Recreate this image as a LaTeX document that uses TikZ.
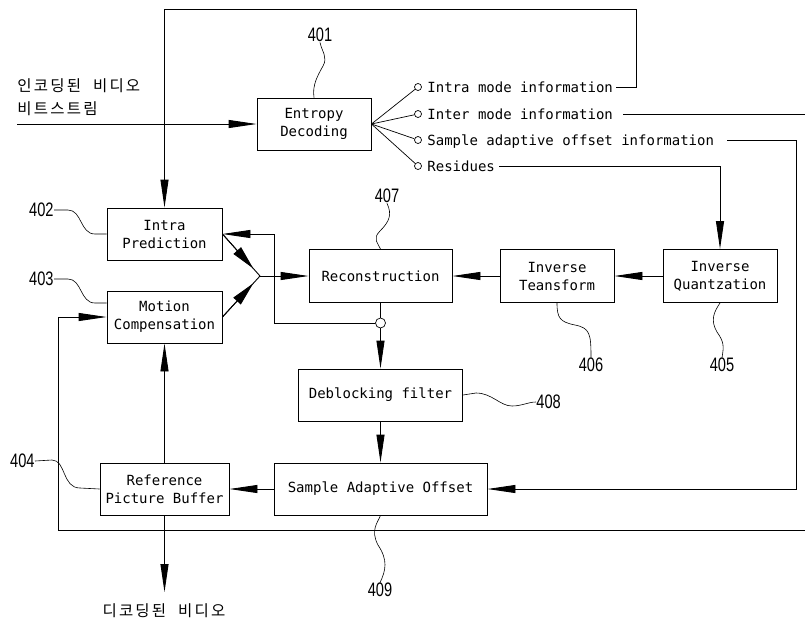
\documentclass[tikz,border=0pt]{standalone}
\usepackage{fontspec}
\usetikzlibrary{arrows.meta,calc}
\newfontfamily\monofnt{DejaVu Sans Mono}
\newfontfamily\numfnt[FakeStretch=0.75]{Liberation Sans}
\newfontfamily\krfnt{Noto Sans CJK KR}
\newcommand\ks{\kern2.2pt}
\newcommand\kgap{\hspace{12pt}}
\begin{document}
\begin{tikzpicture}[x=1pt,y=-1pt,line width=0.9pt,
  box/.style={draw, minimum width=#1, minimum height=52pt, inner sep=0pt, align=center,
    font=\monofnt\fontsize{14}{18}\selectfont},
  arr/.style={-{Triangle[length=28pt,width=8pt]}},
  info/.style={anchor=west, inner sep=0pt, text height=10pt, text depth=0pt,
    font=\monofnt\fontsize{14}{18}\selectfont},
  lbl/.style={inner sep=0pt, font=\numfnt\fontsize{19.5}{20}\selectfont},
  lead/.style={line width=0.6pt},
  kr/.style={inner sep=0pt, font=\krfnt\fontsize{15.5}{18}\selectfont},
  dot/.style={circle, draw, fill=white, minimum size=7pt, inner sep=0pt, line width=0.7pt}]
\useasboundingbox (0,0) rectangle (805,624);

% boxes
\node[box=114pt] (ent) at (314,124) {Entropy\\Decoding};
\node[box=115pt] (intra) at (164.5,234) {Intra\\Prediction};
\node[box=115pt] (mc) at (164.5,317) {Motion\\Compensation};
\node[box=143pt, minimum height=53pt] (recon) at (380.5,276) {Reconstruction};
\node[box=114pt, minimum height=53pt] (it) at (557,276) {Inverse\\Teansform};
\node[box=114pt, minimum height=53pt] (iq) at (720,276) {Inverse\\Quantzation};
\node[box=164pt] (df) at (380.5,395) {Deblocking filter};
\node[box=213pt] (sao) at (380.5,489) {Sample Adaptive Offset};
\node[box=129pt] (rpb) at (164.5,489) {Reference\\Picture Buffer};

% input
\node[kr, anchor=west] (kin1) at (17,86) {인\ks 코\ks 딩\ks 된\kgap 비\ks 디\ks 오};
\node[kr, anchor=west] (kin2) at (17,108.5) {비\ks 트\ks 스\ks 트\ks 림};
\coordinate (in) at (17,124);
\draw[arr] (in) -- (ent.west);

% fan-out
\node[dot] (c1) at (418,87) {};
\node[dot] (c2) at (418,114) {};
\node[dot] (c3) at (418,140) {};
\node[dot] (c4) at (418,166) {};
\foreach \c in {c1,c2,c3,c4} \draw[line width=0.7pt] (ent.east) -- (\c);
\node[info] (t1) at (427,87) {Intra mode information};
\node[info] (t2) at (427,114) {Inter mode information};
\node[info] (t3) at (427,140) {Sample adaptive offset information};
\node[info] (t4) at (427,166) {Residues};

% routing
\coordinate (tr) at (636,9);
\draw[arr] ([xshift=3pt]t1.east) -| (tr) -| (intra.north);
\coordinate (redge1) at (805,114);
\draw ([xshift=10pt]t2.east) -- (redge1);
\coordinate (sr) at (796,140);
\draw[arr] ([xshift=13pt]t3.east) -- (sr) |- (sao.east);
\draw[arr] ([xshift=4pt]t4.east) -| (iq.north);

% main chain
\draw[arr] (iq.west) -- (it.east);
\draw[arr] (it.west) -- (recon.east);
\coordinate (j) at (260,276);
\draw (intra.east) -- (j);
\draw (mc.east) -- (j);
\draw[-{Triangle[length=24pt,width=10pt]}] (intra.east) -- ($(intra.east)!0.82!(j)$);
\draw[-{Triangle[length=24pt,width=10pt]}] (mc.east) -- ($(mc.east)!0.82!(j)$);
\draw[arr] (j) -- (recon.west);

% feedback
\node[circle, draw, minimum size=10pt, inner sep=0pt, line width=0.7pt] (fc) at (380.5,323) {};
\draw (recon.south) -- (fc.north);
\draw[arr] (fc.south) -- (df.north);
\coordinate (fbx) at (274,323);
\draw[arr] (fc.west) -- (fbx) |- (intra.east);

\draw[arr] (df.south) -- (sao.north);
\draw[arr] (sao.west) -- (rpb.east);
\draw[arr] (rpb.north) -- (mc.south);
\coordinate (out) at (164.5,592);
\draw[arr] (rpb.south) -- (out);
\node[kr] (kout) at (164,611) {디\ks 코\ks 딩\ks 된\kgap 비\ks 디\ks 오};

% bottom return to motion compensation
\coordinate (redge2) at (805,530);
\coordinate (bl) at (58,530);
\draw[arr] (redge2) -- (bl) |- (mc.west);

% reference numerals
\node[lbl] (n401) at (320,35) {401};
\draw[lead] (ent.north) .. controls (312,85) and (318,75) .. (323,66) .. controls (328,57) and (322,52) .. (n401.south);
\node[lbl, anchor=east] (n402) at (54,210) {402};
\draw[lead] (n402.east) -- (68,210) .. controls (82,210) and (80,234) .. (95,234) -- (intra.west);
\node[lbl, anchor=east] (n403) at (54,279) {403};
\draw[lead] (n403.east) -- (68,279) .. controls (82,279) and (80,303) .. (95,303) -- ([yshift=14pt]mc.west);
\node[lbl, anchor=east] (n404) at (35,461) {404};
\draw[lead] (n404.east) -- (52,460) .. controls (66,460) and (62,488) .. (80,488) -- (rpb.west);
\node[lbl] (n405) at (722,365) {405};
\draw[lead] (iq.south) .. controls (714,312) and (710,320) .. (717,332) .. controls (724,342) and (724,346) .. (n405.north);
\node[lbl] (n406) at (591,365) {406};
\draw[lead] (it.south) .. controls (557,318) and (560,322) .. (575,325) .. controls (590,328) and (591,334) .. (n406.north);
\node[lbl] (n407) at (387,196) {407};
\draw[lead] (recon.north) .. controls (378,243) and (372,239) .. (380,231) .. controls (390,221) and (392,214) .. (n407.south);
\node[lbl, anchor=west] (n408) at (536,402) {408};
\draw[lead] (df.east) -- (476,393) .. controls (492,393) and (500,406) .. (512,406) .. controls (522,406) and (528,402) .. (n408.west);
\node[lbl] (n409) at (380,590) {409};
\draw[lead] (sao.south) .. controls (378,522) and (370,530) .. (378,545) .. controls (388,560) and (386,570) .. (n409.north);
\end{tikzpicture}
\end{document}
